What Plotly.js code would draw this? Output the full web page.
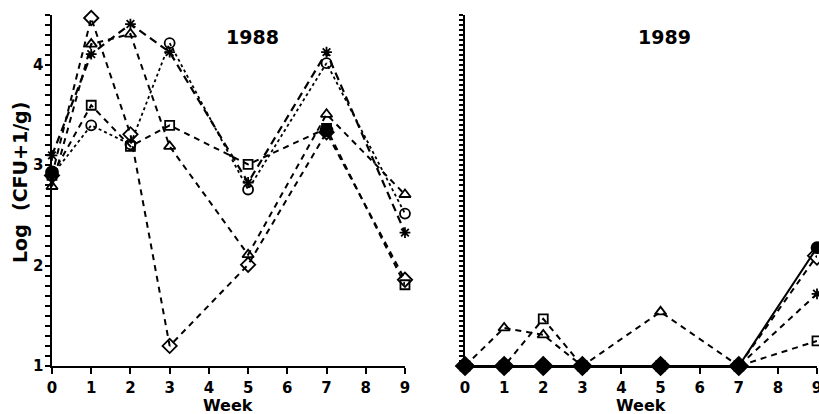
<!DOCTYPE html>
<html>
<head>
<meta charset="utf-8">
<script src="https://cdn.plot.ly/plotly-3.0.1.min.js"></script>
<style>html,body{margin:0;padding:0;background:#fff;}#chart{width:819px;height:414px;}</style>
</head>
<body>
<div id="chart"></div>
<script>
// ---- data ----
const weeks = [0, 1, 2, 3, 5, 7, 9];
const tickWeeks = [0, 1, 2, 3, 4, 5, 6, 7, 8, 9];
const tickLabels = ["0", "1", "2", "3", "4", "5", "6", "7", "8", "9"];
const yTicks = [1, 2, 3, 4];
const yTickLabels = ["1", "2", "3", "4"];

// 1988
const y88Star     = [3.1, 4.11, 4.41, 4.13, 2.83, 4.13, 2.33];
const y88Circle   = [2.9, 3.40, 3.21, 4.22, 2.76, 4.02, 2.52];
const y88Triangle = [2.79, 4.21, 4.31, 3.19, 2.11, 3.51, 2.71];
const y88Square   = [2.9, 3.60, 3.19, 3.40, 3.01, 3.37, 1.81];
const y88Diamond  = [2.9, 4.47, 3.31, 1.20, 2.01, 3.33, 1.86];
const y88Filled   = [2.93, null, null, null, null, 3.35, null];

// 1989
const y89Star     = [1, 1, 1, 1, 1, 1, 1.72];
const y89Square   = [1, 1, 1.47, 1, 1, 1, 1.25];
const y89Triangle = [1, 1.38, 1.31, 1, 1.54, 1, null];
const y89Diamond  = [1, 1, 1, 1, 1, 1, 2.10];
const y89Filled   = [1, 1, 1, 1, 1, 1, 2.18];

const panelTitles = ["1988", "1989"];
const xTitle = "Week";
const yTitle = "Log  (CFU+1/g)";

// tick positions on the log axes
const leftTickVals = [];
for (let i = 10; i <= 45; i++) leftTickVals.push(i / 10);
const rightTickVals = [];
for (let i = 20; i <= 90; i++) rightTickVals.push(i / 20);

// ---- styles ----
const LONG = "8px,5px";
const MED = "6px,5px";
const DOT = "3px,3px";
function tr(y, xa, ya, symbol, dash, size, width) {
  return {
    x: weeks, y: y, xaxis: xa, yaxis: ya, type: "scatter",
    mode: dash === null ? "markers" : "lines+markers",
    cliponaxis: false, connectgaps: false,
    line: {color: "#000", width: width || 2, dash: dash || "solid"},
    marker: {symbol: symbol, size: size || 9, color: "#000",
             line: {color: "#000", width: 1.8}}
  };
}
const diamondSyms89 = ["diamond", "diamond", "diamond", "diamond", "diamond", "diamond", "diamond-open"];

const data = [
  tr(y88Square, "x", "y", "square-open", MED, 9),
  tr(y88Diamond, "x", "y", "diamond-open", MED, 11),
  tr(y88Triangle, "x", "y", "triangle-up-open", MED, 10),
  tr(y88Circle, "x", "y", "circle-open", DOT, 10, 1.8),
  tr(y88Star, "x", "y", "asterisk-open", LONG, 9, 2.2),
  tr(y88Filled, "x", "y", "circle", null, 12),

  tr(y89Star, "x2", "y2", "asterisk-open", MED, 9),
  tr(y89Square, "x2", "y2", "square-open", MED, 9),
  tr(y89Triangle, "x2", "y2", "triangle-up-open", MED, 10),
  tr(y89Diamond, "x2", "y2", "diamond", MED, 14),
  tr(y89Filled, "x2", "y2", "circle", "solid", 11, 2)
];
data[9].marker.symbol = diamondSyms89;

const tickFont = {family: "DejaVu Sans", size: 15, color: "#000", weight: "bold"};
function xaxis(domain, anchor) {
  return {
    domain: domain, anchor: anchor, range: [0, 9], showgrid: false, zeroline: false,
    showline: true, linecolor: "#000", linewidth: 2,
    tickmode: "array", tickvals: tickWeeks, ticktext: tickLabels,
    ticks: "outside", ticklen: 6, tickwidth: 2, tickcolor: "#000",
    tickfont: tickFont, ticklabelstandoff: 1, ticklabeloverflow: "allow"
  };
}

const annotations = [
  {text: panelTitles[0], xref: "x", yref: "paper", x: 5.1, y: (366 - 37) / 351,
   showarrow: false, xanchor: "center", yanchor: "middle",
   font: {family: "DejaVu Sans", size: 19, color: "#000", weight: "bold"}},
  {text: panelTitles[1], xref: "x2", yref: "paper", x: 5.1, y: (366 - 37) / 351,
   showarrow: false, xanchor: "center", yanchor: "middle",
   font: {family: "DejaVu Sans", size: 19, color: "#000", weight: "bold"}},
  {text: xTitle, xref: "x", yref: "paper", x: 4.5, y: (366 - 405) / 351,
   showarrow: false, xanchor: "center", yanchor: "middle",
   font: {family: "DejaVu Sans", size: 16, color: "#000", weight: "bold"}},
  {text: xTitle, xref: "x2", yref: "paper", x: 4.5, y: (366 - 405) / 351,
   showarrow: false, xanchor: "center", yanchor: "middle",
   font: {family: "DejaVu Sans", size: 16, color: "#000", weight: "bold"}},
  {text: yTitle, xref: "paper", yref: "paper", x: (20 - 52) / 765, y: (366 - 183) / 351,
   showarrow: false, xanchor: "center", yanchor: "middle", textangle: -90,
   font: {family: "DejaVu Sans", size: 19, color: "#000", weight: "bold"}}
];
// y tick labels of the left panel, placed on the y scale
yTicks.forEach((v, i) => annotations.push({
  text: yTickLabels[i], xref: "paper", yref: "y", x: (45 - 52) / 765, y: v,
  showarrow: false, xanchor: "right", yanchor: "middle",
  font: tickFont
}));

const layout = {
  width: 819, height: 414,
  margin: {l: 52, r: 2, t: 15, b: 48},
  paper_bgcolor: "#fff", plot_bgcolor: "#fff",
  showlegend: false,
  xaxis: xaxis([0, 0.4614], "y"),
  xaxis2: xaxis([0.5399, 1], "y2"),
  yaxis: {
    domain: [0, 1], anchor: "x", range: [1, 4.5], showgrid: false, zeroline: false,
    showline: true, linecolor: "#000", linewidth: 2,
    tickmode: "array", tickvals: leftTickVals, showticklabels: false,
    ticks: "outside", ticklen: 5, tickwidth: 2, tickcolor: "#000"
  },
  yaxis2: {
    domain: [0, 1], anchor: "x2", range: [1, 4.5], showgrid: false, zeroline: false,
    showline: true, linecolor: "#000", linewidth: 2,
    tickmode: "array", tickvals: rightTickVals, showticklabels: false,
    ticks: "outside", ticklen: 4, tickwidth: 2, tickcolor: "#000"
  },
  annotations: annotations
};
Plotly.newPlot("chart", data, layout, {staticPlot: true, displayModeBar: false});
</script>
</body>
</html>
